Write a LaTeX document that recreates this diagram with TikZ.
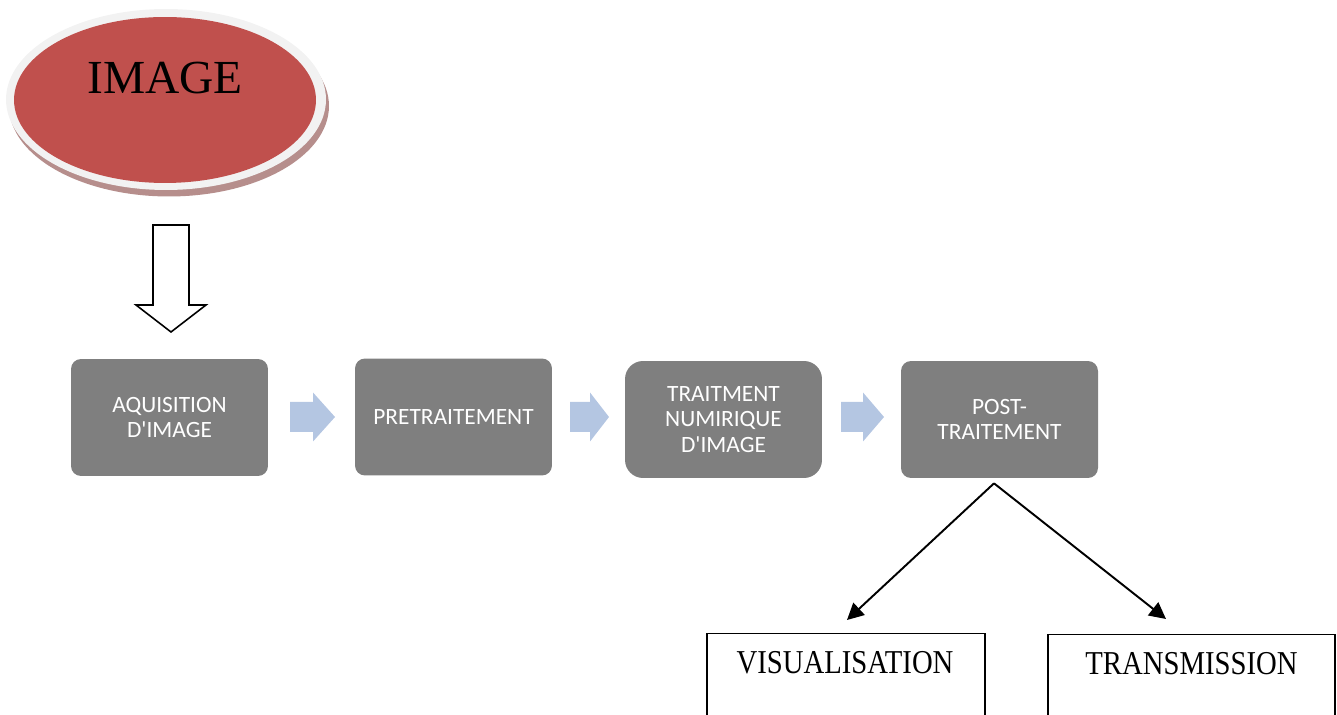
\documentclass[tikz,border=0pt]{standalone}
\usepackage{fontspec}
\setmainfont{Liberation Serif}
\newfontfamily\boxfont{Carlito}
\newfontfamily\narrowfont[FakeStretch=0.86]{Liberation Serif}
\usetikzlibrary{calc, shapes.geometric, arrows.meta}
\definecolor{imgred}{RGB}{192,80,77}
\definecolor{ringgray}{RGB}{242,242,242}
\definecolor{shadowred}{RGB}{182,142,140}
\definecolor{stepgray}{RGB}{127,127,127}
\definecolor{arrowblue}{RGB}{180,198,226}
\def\fatarrow(#1:#2:#3:#4){\fill[arrowblue] (#1,#4-15) -- (#2,#4-15) -- (#2,#4-24.5) -- (#3,#4)
		-- (#2,#4+24.5) -- (#2,#4+15) -- (#1,#4+15) -- cycle;}

\begin{document}
\begin{tikzpicture}[x=0.02cm, y=-0.02cm,
	stepbox/.style={fill=stepgray, rounded corners=0.2cm, minimum width=3.94cm, minimum height=2.34cm,
		align=center, text=white, font=\boxfont\fontsize{13.3}{14.5}\selectfont},
	outbox/.style={draw, line width=0.8pt, anchor=north, minimum width=5.56cm, minimum height=3cm},
	outlabel/.style={font=\narrowfont\fontsize{19}{22}\selectfont},
	fork/.style={line width=1.1pt, -{Triangle[length=0.33cm, width=0.33cm]}}]

	\useasboundingbox (0,0) rectangle (1337,715);
	\clip (0,0) rectangle (1337,715);

	% image ellipse with its ring and shadow
	\fill[shadowred] (169,106) ellipse [x radius=3.2cm, y radius=1.81cm];
	\fill[ringgray] (166,99.5) ellipse [x radius=3.2cm, y radius=1.81cm];
	\node[ellipse, fill=imgred, minimum width=6.04cm, minimum height=3.32cm, inner sep=0] (img) at (165,100) {};
	\node[font=\fontsize{27}{30}\selectfont] (imglabel) at (165,78) {IMAGE};

	\draw[line width=0.9pt, fill=white] (153,225) -- (189,225) -- (189,305) -- (206,305)
		-- (171,332) -- (136,305) -- (153,305) -- cycle;

	% processing chain
	\node[stepbox] (acq) at (169.5,417.5) {AQUISITION\\D\textquotesingle IMAGE};
	\node[stepbox] (pre) at (453.5,417) {PRETRAITEMENT};
	\node[stepbox, rounded corners=0.36cm] (num) at (723.5,419.5) {TRAITMENT\\NUMIRIQUE\\D\textquotesingle IMAGE};
	\node[stepbox] (post) at (999.5,419.5) {POST-\\TRAITEMENT};

	\fatarrow(290:313:335:417)
	\fatarrow(570:590:609:417)
	\fatarrow(841:863:884:417)

	% outputs
	\node[outbox] (visubox) at (846,633) {};
	\node[outbox, minimum width=5.74cm] (transbox) at (1191.5,634) {};
	\node[outlabel] (visu) at (845,663) {VISUALISATION};
	\node[outlabel] (trans) at (1191.5,664) {TRANSMISSION};

	\coordinate (fork) at ($(post.south)+(-5.5,5)$);
	\coordinate (visutip) at ($(visubox.north)+(1,-13)$);
	\coordinate (transtip) at ($(transbox.north)+(-25.5,-15)$);
	\draw[fork] (fork) -- (visutip);
	\draw[fork] (fork) -- (transtip);

\end{tikzpicture}
\end{document}
